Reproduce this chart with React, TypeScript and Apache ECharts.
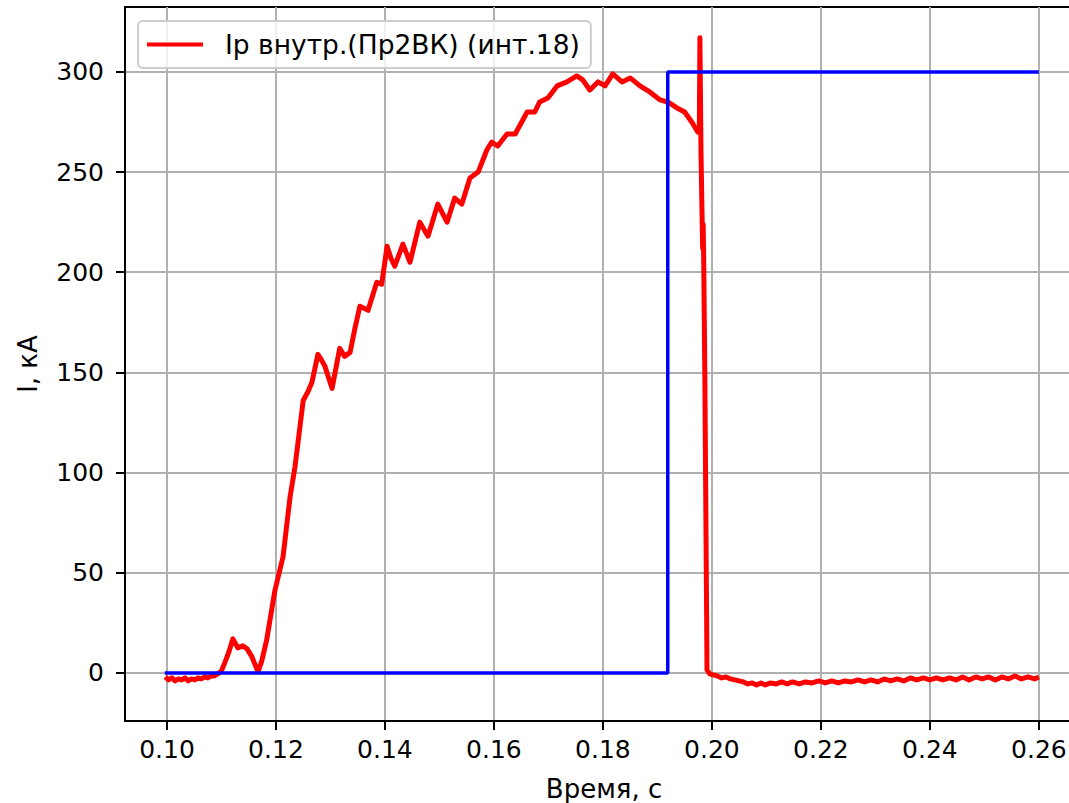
import React, { useEffect, useRef } from "react";
import * as echarts from "echarts";

const redName = "Ip внутр.(Пр2ВК) (инт.18)";
const xAxisTitle = "Время, с";
const yAxisTitle = "I, кА";

const xTicks = [0.1, 0.12, 0.14, 0.16, 0.18, 0.2, 0.22, 0.24, 0.26];
const yTicks = [0, 50, 100, 150, 200, 250, 300];

const blueTime = [0.0996, 0.1919, 0.1919, 0.26];
const blueValue = [0, 0, 300, 300];

const redTime = [
  0.0997, 0.1003, 0.1009, 0.1015, 0.1021, 0.1027, 0.1033, 0.1039, 0.1045, 0.1051,
  0.1057, 0.1063, 0.1069, 0.1075, 0.1081, 0.1087, 0.1093, 0.11, 0.1106, 0.1113,
  0.1121, 0.113, 0.1139, 0.1147, 0.1156, 0.1167, 0.1174, 0.1183, 0.1198, 0.1213,
  0.1226, 0.1235, 0.125, 0.1258, 0.1266, 0.1277, 0.1284, 0.129, 0.1303, 0.1317,
  0.1326, 0.1336, 0.1345, 0.1354, 0.1369, 0.1385, 0.1394, 0.1404, 0.1411, 0.1418,
  0.1433, 0.1446, 0.1464, 0.1479, 0.1497, 0.1514, 0.1528, 0.1541, 0.1556, 0.1571,
  0.1587, 0.1596, 0.1607, 0.1624, 0.1639, 0.1653, 0.1661, 0.1675, 0.1684, 0.1699,
  0.1716, 0.1734, 0.1752, 0.1763, 0.1776, 0.1791, 0.1804, 0.1818, 0.1835, 0.185,
  0.1868, 0.1886, 0.1905, 0.1919, 0.1936, 0.195, 0.1963, 0.1974, 0.1977, 0.1978,
  0.198, 0.1982, 0.1983, 0.1984, 0.1985, 0.1987, 0.199, 0.1991, 0.1996, 0.2002,
  0.201, 0.2018, 0.2026, 0.2034, 0.2042, 0.205, 0.2058, 0.2066, 0.2074, 0.2082,
  0.209, 0.2098, 0.2108, 0.2118, 0.2128, 0.2138, 0.2148, 0.216, 0.2172, 0.2184,
  0.2196, 0.2208, 0.222, 0.2232, 0.2244, 0.2256, 0.2268, 0.228, 0.2292, 0.2304,
  0.2316, 0.2328, 0.234, 0.2352, 0.2364, 0.2376, 0.2388, 0.24, 0.2412, 0.2424,
  0.2436, 0.2448, 0.246, 0.2472, 0.2484, 0.2496, 0.2508, 0.252, 0.2532, 0.2544,
  0.2556, 0.2568, 0.258, 0.2592, 0.26,
];
const redValue = [
  -2, -3.5, -2.5, -4, -3, -3.5, -2.5, -4, -3, -3.5,
  -2.5, -3, -2, -2.5, -1.5, -1.5, -0.5, 1, 5, 10,
  17, 12.5, 13.5, 12, 8, 0.5, 6, 16.5, 41, 58,
  88, 103, 136, 140, 145, 159, 156, 153, 142, 162,
  158, 160, 172, 183, 181, 195, 194, 213, 207, 203,
  214, 205, 225, 218, 234, 225, 237, 234, 247, 250,
  261, 265, 263, 269, 269, 276, 280, 280, 285, 287,
  293, 295, 298, 296, 291, 295, 293, 299, 295, 297,
  293, 290, 286, 285, 282, 280, 275, 270, 272, 317,
  260, 228, 212, 224, 206, 150, 40, 1.5, -0.5, -1,
  -1.5, -2.5, -2, -3, -3.5, -4, -4.5, -5.5, -5, -6,
  -5, -6, -5, -5.5, -4.5, -5.5, -4.5, -5.5, -4.5, -5,
  -4, -5, -4, -5, -4, -4.5, -3.5, -4.5, -3.5, -4.5,
  -3, -4, -3, -4, -2.5, -3.5, -2.5, -3.5, -2.5, -3.5,
  -2.5, -3.5, -2, -3.5, -2, -3, -2, -3.5, -2, -3,
  -1.5, -3, -2, -3, -2,
];

const X_MIN = 0.0923;
const X_MAX = 0.2681;
const Y_MIN = -24;
const Y_MAX = 332.4;

const FONT = "DejaVu Sans";

export default function App() {
  const ref = useRef<HTMLDivElement>(null);
  useEffect(() => {
    if (!ref.current) return;
    const chart = echarts.init(ref.current, undefined, { renderer: "svg" });
    const redData = redTime.map((t, i) => [t, redValue[i]]);
    const blueData = blueTime.map((t, i) => [t, blueValue[i]]);
    chart.setOption({
      animation: false,
      backgroundColor: "#ffffff",
      textStyle: { fontFamily: FONT },
      grid: {
        left: 125,
        top: 7,
        width: 958,
        height: 714,
        show: true,
        borderColor: "#000000",
        borderWidth: 2,
        backgroundColor: "transparent",
        outerBoundsMode: "none",
        containLabel: false,
      },
      legend: {
        show: true,
        data: [{ name: redName, icon: "rect" }],
        left: 138,
        top: 21,
        orient: "horizontal",
        padding: [10, 11, 10, 9],
        itemWidth: 56,
        itemHeight: 4,
        backgroundColor: "rgba(255,255,255,0.8)",
        borderColor: "#cccccc",
        borderWidth: 2,
        borderRadius: 5,
        textStyle: {
          fontFamily: FONT,
          fontSize: 26.5,
          color: "#000000",
          padding: [0, 0, 0, 17],
        },
      },
      xAxis: {
        type: "value",
        min: X_MIN,
        max: X_MAX,
        minInterval: 0.02,
        maxInterval: 0.02,
        axisLine: { show: true, onZero: false, lineStyle: { color: "#000000", width: 2 } },
        axisTick: {
          show: true,
          length: 9,
          customValues: xTicks,
          lineStyle: { color: "#000000", width: 2 },
        },
        axisLabel: {
          show: true,
          customValues: xTicks,
          formatter: (v: number) => v.toFixed(2),
          fontFamily: FONT,
          fontSize: 25,
          color: "#000000",
          margin: 16,
        },
        splitLine: { show: true, lineStyle: { color: "#b0b0b0", width: 2 } },
      },
      yAxis: {
        type: "value",
        min: Y_MIN,
        max: Y_MAX,
        minInterval: 50,
        maxInterval: 50,
        axisLine: { show: true, onZero: false, lineStyle: { color: "#000000", width: 2 } },
        axisTick: {
          show: true,
          length: 9,
          customValues: yTicks,
          lineStyle: { color: "#000000", width: 2 },
        },
        axisLabel: {
          show: true,
          customValues: yTicks,
          formatter: (v: number) => String(v),
          fontFamily: FONT,
          fontSize: 25,
          color: "#000000",
          margin: 21,
        },
        splitLine: { show: true, lineStyle: { color: "#b0b0b0", width: 2 } },
      },
      graphic: [
        {
          type: "text",
          x: 604,
          y: 789,
          style: {
            text: xAxisTitle,
            fontFamily: FONT,
            fontSize: 26,
            fill: "#000000",
            align: "center",
            verticalAlign: "middle",
          },
        },
        {
          type: "text",
          x: 28,
          y: 364,
          rotation: Math.PI / 2,
          style: {
            text: yAxisTitle,
            fontFamily: FONT,
            fontSize: 26,
            fill: "#000000",
            align: "center",
            verticalAlign: "middle",
          },
        },
      ],
      series: [
        {
          name: redName,
          type: "line",
          data: redData,
          symbol: "none",
          showSymbol: false,
          z: 3,
          lineStyle: { color: "#ff0000", width: 5, join: "round" },
          itemStyle: { color: "#ff0000" },
        },
        {
          name: "blue",
          type: "line",
          data: blueData,
          symbol: "none",
          showSymbol: false,
          z: 4,
          lineStyle: { color: "#0000ff", width: 3.5 },
          itemStyle: { color: "#0000ff" },
        },
      ],
    });
    return () => chart.dispose();
  }, []);
  return (
    <div
      ref={ref}
      style={{ position: "fixed", left: 0, top: 0, width: 1069, height: 803, background: "#fff" }}
    />
  );
}
